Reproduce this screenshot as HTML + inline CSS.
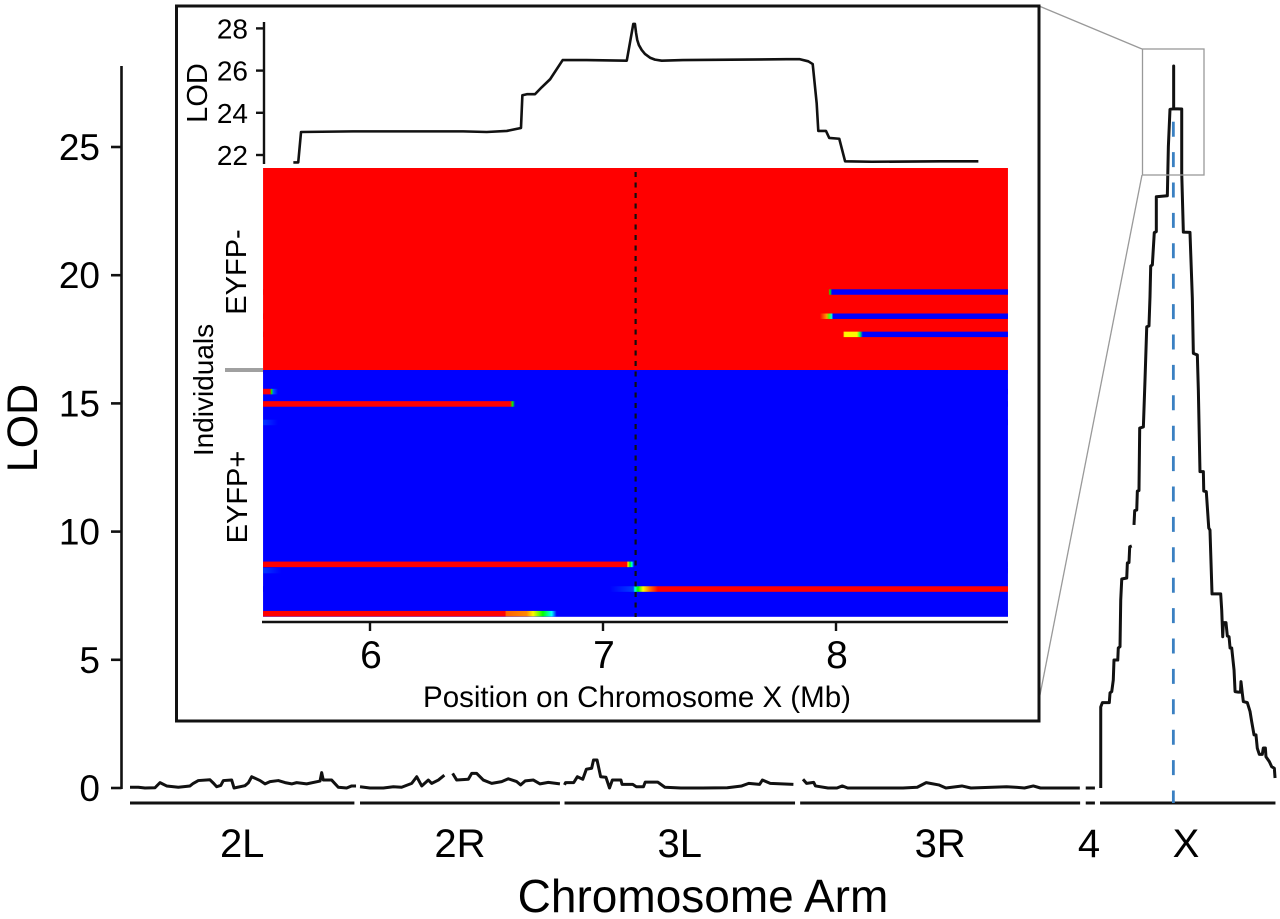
<!DOCTYPE html>
<html lang="en">
<head>
<meta charset="utf-8">
<title>LOD by chromosome arm with chromosome X inset</title>
<style>
html,body{margin:0;padding:0;background:#fff;}
svg{display:block;font-family:"Liberation Sans",sans-serif;}
</style>
</head>
<body>
<svg id="fig" width="1280" height="919" viewBox="0 0 1280 919" xmlns="http://www.w3.org/2000/svg">
  <defs id="defs"></defs>
  <rect width="1280" height="919" fill="#fff"/>
  <g id="main"></g>
  <line x1="1039" y1="6" x2="1142" y2="49" stroke="#999" stroke-width="1.3"/>
  <line x1="1039" y1="700" x2="1142" y2="175" stroke="#999" stroke-width="1.3"/>
  <rect x="1142.5" y="49" width="61.5" height="126" fill="none" stroke="#999" stroke-width="1.3"/>
  <text transform="translate(37,428) rotate(-90)" text-anchor="middle" font-size="43">LOD</text>
  <text x="703" y="912" text-anchor="middle" font-size="46">Chromosome Arm</text>
  <rect x="176.5" y="6" width="862.5" height="715" fill="#fff" stroke="#111" stroke-width="3"/>
  <g id="inset"></g>
  <text transform="translate(207,93) rotate(-90)" text-anchor="middle" font-size="29">LOD</text>
  <text x="637" y="707" text-anchor="middle" font-size="29.5">Position on Chromosome X (Mb)</text>
  <text transform="translate(213,390) rotate(-90)" text-anchor="middle" font-size="28">Individuals</text>
  <text transform="translate(246,272) rotate(-90)" text-anchor="middle" font-size="29">EYFP-</text>
  <text transform="translate(247,497) rotate(-90)" text-anchor="middle" font-size="29">EYFP+</text>
  <line x1="225" y1="370" x2="263" y2="370" stroke="#a0a0a0" stroke-width="4"/>
</svg>
<script>
// ---- Genome scan data ----
const lodTicks = [0, 5, 10, 15, 20, 25];
const armNames = ['2L', '2R', '3L', '3R', '4', 'X'];
const armOffsetMb = [0, 22.55, 42.6, 65.7, 93.7, 95.1];
const armLengthMb = [22, 19.6, 22.6, 27.45, 0.9, 17.2];
const arm2LMb = [0,.82,1.47,2.45,2.94,3.59,4.74,5.88,6.2,6.7,7.84,8.2,8.5,8.9,9.15,9.97,10.2,11.27,11.6,11.93,12.75,13.24,13.73,14.54,15.2,15.85,16.34,17.32,18.63,18.79,18.95,19.77,20.42,21.24,21.73,22.16];
const arm2LLod = [.03,.03,0,.01,.21,.08,.03,.08,.18,.29,.32,.18,.05,.1,.29,.31,0,.09,.2,.44,.29,.16,.25,.29,.21,.16,.21,.16,.27,.6,.31,.31,.03,0,.08,.08];
const arm2RMb = [0,.98,2.29,3.27,4.08,5.07,5.56,6.05,6.7,7.03,7.68,8.27,null,9.08,9.48,10.62,10.95,11.44,12.09,12.91,13.89,14.54,15.36,15.75,16.2,17,17.65,18.46,19.6];
const arm2RLod = [.05,0,0,.05,.03,.18,.44,.08,.31,.18,.31,.5,null,.57,.31,.34,.57,.57,.31,.18,.25,.36,.25,.12,.28,.31,.16,.22,.16];
const arm3LMb = [0,.1,.9,1.26,1.79,2.14,2.66,2.84,3.19,3.54,4.06,4.41,4.69,5.53,5.64,6.69,7.04,7.74,7.91,9.14,9.84,11.41,13.52,15.96,17.37,18.06,19.12,19.4,20.17,22.44];
const arm3LLod = [.12,.21,.21,.44,.34,.73,.77,1.09,1.09,.44,.42,0,.31,.31,.14,.14,.05,.05,.23,.23,.03,0,0,.01,.08,.18,.14,.31,.18,.14];
const arm3RMb = [.28,.63,1.33,1.5,2.73,3.61,4.13,4.66,10.08,11.48,12.36,13.59,14.29,15.86,16.74,20.24,21.1,21.99,22.86,23.56,27.42];
const arm3RLod = [.34,.18,.22,.08,0,0,.08,0,0,.03,.21,.12,0,.08,0,.05,.03,0,.08,0,0];
const arm4Mb = [0, .9];
const arm4Lod = [0, 0];
const armXMb = [.07,.07,.23,.91,.98,1.15,1.30,1.37,1.74,1.79,1.96,2.03,2.13,2.62,2.68,2.84,2.91,3.11,null,3.33,3.40,3.60,3.66,3.82,3.89,4.25,4.41,4.58,4.80,4.90,4.97,5.13,5.32,5.52,5.52,6.60,6.70,6.86,7.22,7.22,7.22,8.01,8.01,8.17,8.82,9.05,9.15,9.54,9.64,9.80,10.13,10.17,10.42,10.66,10.78,10.98,11.83,11.93,12.03,12.09,12.35,12.48,12.65,12.75,12.91,13.14,13.24,13.56,13.77,13.82,13.95,14.05,14.44,14.71,14.87,15.10,15.29,15.42,15.62,15.91,16.01,16.21,16.27,16.60,16.83,17.09,17.16];
const armXLod = [0,3.16,3.33,3.33,3.71,3.76,4.21,4.99,4.99,5.46,5.51,7.33,8.15,8.19,8.78,8.79,9.41,9.44,null,10.26,10.82,10.84,11.58,11.60,14.04,14.08,15.91,17.99,18.02,19.16,20.36,20.40,21.66,21.70,23.06,23.10,25.01,26.47,26.49,28.16,26.49,26.48,23.99,21.68,21.67,19.11,16.95,16.89,15.52,12.34,12.34,11.58,11.56,10.14,10.06,7.57,7.57,6.94,5.90,6.45,6.45,5.93,5.90,5.46,5.46,4.60,3.76,3.74,3.74,4.15,3.69,3.37,3.33,2.98,2.59,2.07,2.07,1.55,1.31,1.31,1.56,1.56,1.22,1.03,.83,.77,.39];
const armSeriesMb = [arm2LMb, arm2RMb, arm3LMb, arm3RMb, arm4Mb, armXMb];
const armSeriesLod = [arm2LLod, arm2RLod, arm3LLod, arm3RLod, arm4Lod, armXLod];
const qtlArmIndex = 5;
const qtlMainMb = 7.19;

// ---- Inset data ----
const insetLodTicks = [22, 24, 26, 28];
const insetMbTicks = [6, 7, 8];
const insetMb = [5.671,5.692,5.704,5.927,6.400,6.501,6.587,6.648,6.654,6.673,6.708,6.737,6.773,6.827,6.930,7.102,7.130,7.137,7.142,7.147,7.154,7.166,7.180,7.202,7.223,7.252,7.343,7.788,7.845,7.881,7.900,7.917,7.924,7.957,7.971,8.014,8.039,8.153,8.446,8.611];
const insetLod = [21.65,21.65,23.09,23.12,23.12,23.09,23.14,23.28,24.83,24.88,24.88,25.21,25.59,26.50,26.50,26.47,28.21,28.21,27.78,27.45,27.21,26.98,26.79,26.61,26.52,26.47,26.50,26.54,26.54,26.44,26.31,24.46,23.14,23.14,22.81,22.77,21.70,21.68,21.70,21.70];
const qtlInsetMb = 7.14;

// ---- Heatmap data: value 1 = red genotype, 0 = blue genotype ----
const heatMinMb = 5.541;
const heatMaxMb = 8.738;
const groupNames = ['eyfp-negative', 'eyfp-positive'];
const groupBackground = [1, 0];
const groupRowCount = [34, 40];
const recombinantGroup = [0, 0, 0, 1, 1, 1, 1, 1, 1, 1];
const recombinantRow = [20, 24, 27, 3, 5, 8, 31, 32, 35, 39];
const recombinantStopsMb = [
  [7.968, 7.974, 7.983],
  [7.931, 7.960, 7.970, 7.981, 7.988],
  [8.030, 8.036, 8.090, 8.103, 8.115],
  [5.571, 5.578, 5.584, 5.605],
  [6.601, 6.612, 6.622],
  [5.541, 5.605],
  [7.102, 7.107, 7.116, 7.124, 7.133],
  [5.541, 5.620],
  [7.030, 7.130, 7.137, 7.150, 7.172, 7.202, 7.236],
  [6.579, 6.585, 6.672, 6.700, 6.742, 6.780, 6.801]
];
const recombinantStopsValue = [
  [1, .5, 0],
  [1, .8, .55, .35, 0],
  [1, .68, .68, .45, 0],
  [1, .5, .12, 0],
  [1, .5, 0],
  [.07, 0],
  [1, .7, .5, .35, 0],
  [.07, 0],
  [0, .08, .35, .5, .68, .85, 1],
  [1, .87, .82, .68, .5, .33, 0]
];

// ---- Axis functions ----
const SVGNS = 'http://www.w3.org/2000/svg';
const genomeX = mb => 130 + 10.2 * mb;
const lodY = v => 788 - 25.64 * v;
const insetX = mb => 370 + 233 * (mb - 6);
const insetY = v => 155 - 21.1 * (v - 22);
const groupTop = [168, 370];
const groupPitch = [6.05, 6.17];
const rowY = (g, r) => groupTop[g] + groupPitch[g] * r;

function mk(parent, tag, attrs, text) {
  const el = document.createElementNS(SVGNS, tag);
  for (const k in attrs) el.setAttribute(k, attrs[k]);
  if (text !== undefined) el.textContent = text;
  parent.appendChild(el);
  return el;
}
function pathFrom(xs, ys, fx, fy) {
  let d = '', pen = false;
  xs.forEach((x, i) => {
    if (x === null) { pen = false; return; }
    d += (pen ? 'L' : 'M') + fx(x).toFixed(2) + ' ' + fy(ys[i]).toFixed(2);
    pen = true;
  });
  return d;
}
const jetAt = [0, .33, .5, .67, .83, 1];
const jetR = [0, 0, 0, 255, 255, 255];
const jetG = [0, 255, 255, 255, 128, 0];
const jetB = [255, 255, 0, 0, 0, 0];
function jet(p) {
  const t = Math.max(0, Math.min(1, p));
  let k = 0;
  while (k < jetAt.length - 2 && t > jetAt[k + 1]) k++;
  const f = (t - jetAt[k]) / (jetAt[k + 1] - jetAt[k]);
  const mix = a => Math.round(a[k] + (a[k + 1] - a[k]) * f);
  return 'rgb(' + mix(jetR) + ',' + mix(jetG) + ',' + mix(jetB) + ')';
}

const main = document.getElementById('main');
const inset = document.getElementById('inset');
const defs = document.getElementById('defs');

// Main y axis
const yAxis = mk(main, 'line', {x1: 121.5, y1: 66, x2: 121.5, y2: lodY(0) + 1, stroke: '#111', 'stroke-width': 2.6});


lodTicks.forEach(v => {
  const t = mk(main, 'line', {x1: 111, y1: lodY(v), x2: 121.5, y2: lodY(v), stroke: '#111', 'stroke-width': 2.6});
  
  
  const l = mk(main, 'text', {x: 100, y: lodY(v) + 13, 'text-anchor': 'end', 'font-size': 37}, String(v));
  
  
});

// Arm bars and labels
armNames.forEach((name, i) => {
  const x0 = genomeX(armOffsetMb[i]);
  const x1 = genomeX(armOffsetMb[i] + armLengthMb[i]);
  const bar = mk(main, 'line', {x1: x0, y1: 803, x2: x1, y2: 803, stroke: '#111', 'stroke-width': 3});
  
  
  const cx = name === '4' ? 1089 : name === 'X' ? 1186 : (x0 + x1) / 2;
  const lab = mk(main, 'text', {x: cx, y: 857, 'text-anchor': 'middle', 'font-size': 40}, name);
  
  
});

// QTL dashed marker
const qtlX = genomeX(armOffsetMb[qtlArmIndex] + qtlMainMb);
const qtl = mk(main, 'line', {x1: qtlX, y1: 121.7, x2: qtlX, y2: 803, stroke: '#3a80c2', 'stroke-width': 2.8, 'stroke-dasharray': '15 15.4'});



// LOD traces
armNames.forEach((name, i) => {
  const off = armOffsetMb[i];
  const line = mk(main, 'path', {
    d: pathFrom(armSeriesMb[i], armSeriesLod[i], m => genomeX(off + m), lodY),
    fill: 'none', stroke: '#111', 'stroke-width': 3, 'stroke-linejoin': 'round'
  });
  
  
});

// Heatmap backgrounds
const heatLeft = insetX(heatMinMb), heatRight = insetX(heatMaxMb);
groupNames.forEach((name, g) => {
  const r = mk(inset, 'rect', {
    x: heatLeft, y: rowY(g, 0), width: heatRight - heatLeft,
    height: groupPitch[g] * groupRowCount[g], fill: jet(groupBackground[g])
  });
  
  
});

// Heatmap recombinant rows
recombinantRow.forEach((row, i) => {
  const g = recombinantGroup[i];
  const grad = mk(defs, 'linearGradient', {id: 'rowGrad' + i, gradientUnits: 'userSpaceOnUse', x1: heatLeft, x2: heatRight, y1: 0, y2: 0});
  const mbs = recombinantStopsMb[i], vals = recombinantStopsValue[i];
  mbs.forEach((m, k) => {
    const offset = (insetX(m) - heatLeft) / (heatRight - heatLeft);
    mk(grad, 'stop', {offset: offset.toFixed(5), 'stop-color': jet(vals[k])});
  });
  const r = mk(inset, 'rect', {
    x: heatLeft, y: rowY(g, row) + 0.3, width: heatRight - heatLeft,
    height: groupPitch[g] - 0.6, fill: 'url(#rowGrad' + i + ')'
  });
  
  
});

// Inset QTL line
const iq = mk(inset, 'line', {x1: insetX(qtlInsetMb), y1: 172, x2: insetX(qtlInsetMb), y2: 617, stroke: '#111', 'stroke-width': 2.2, 'stroke-dasharray': '5 5.5'});



// Inset LOD axis
const iy = mk(inset, 'line', {x1: 264, y1: 22, x2: 264, y2: 164, stroke: '#111', 'stroke-width': 2.4});


insetLodTicks.forEach(v => {
  const t = mk(inset, 'line', {x1: 256, y1: insetY(v), x2: 264, y2: insetY(v), stroke: '#111', 'stroke-width': 2.4});
  
  
  const l = mk(inset, 'text', {x: 248, y: insetY(v) + 10, 'text-anchor': 'end', 'font-size': 28}, String(v));
  
  
});

// Inset Mb axis
const ix = mk(inset, 'line', {x1: 262, y1: 622, x2: heatRight, y2: 622, stroke: '#111', 'stroke-width': 2.6});


insetMbTicks.forEach(v => {
  const t = mk(inset, 'line', {x1: insetX(v), y1: 622, x2: insetX(v), y2: 631, stroke: '#111', 'stroke-width': 2.4});
  
  
  const l = mk(inset, 'text', {x: insetX(v) + 1, y: 668, 'text-anchor': 'middle', 'font-size': 39}, String(v));
  
  
});

// Inset LOD trace
const trace = mk(inset, 'path', {
  d: pathFrom(insetMb, insetLod, insetX, insetY),
  fill: 'none', stroke: '#111', 'stroke-width': 2.6, 'stroke-linejoin': 'round'
});


</script>
</body>
</html>
